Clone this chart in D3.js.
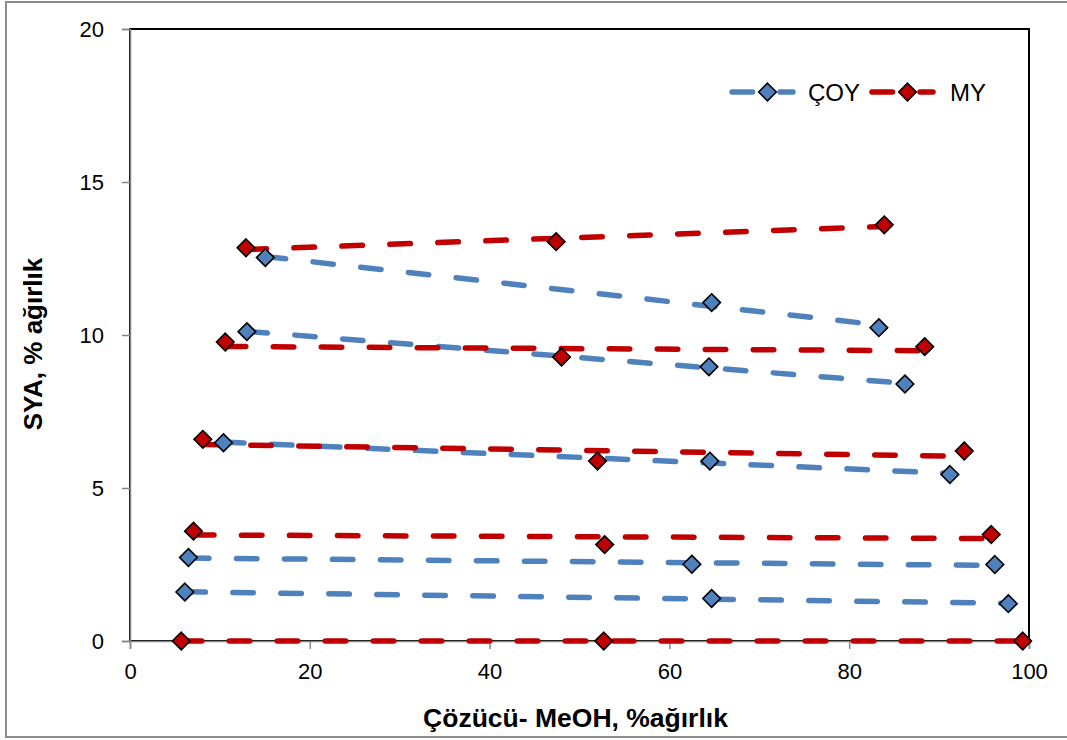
<!DOCTYPE html>
<html>
<head>
<meta charset="utf-8">
<script src="https://cdn.jsdelivr.net/npm/d3@7"></script>
<style>
  body { margin: 0; background: #fff; }
  text { font-family: "Liberation Sans", Arial, sans-serif; }
</style>
</head>
<body>
<div id="plot"></div>
<script>
// data: 5 groups of 3 points per series
var coyX = [[15.05, 64.7, 83.3], [13.0, 64.4, 86.2], [10.4, 64.5, 91.2], [6.5, 62.5, 96.2], [6.1, 64.7, 97.7]];
var coyY = [[12.53, 11.06, 10.24], [10.11, 8.96, 8.40], [6.48, 5.88, 5.44], [2.73, 2.51, 2.50], [1.60, 1.39, 1.22]];
var myX = [[12.9, 47.4, 83.9], [10.6, 48.0, 88.4], [8.1, 52.0, 92.8], [7.06, 52.8, 95.8], [5.7, 52.7, 99.3]];
var myY = [[12.85, 13.05, 13.6], [9.77, 9.28, 9.62], [6.59, 5.88, 6.21], [3.59, 3.15, 3.48], [0, 0, 0]];
var seriesNames = ["ÇOY", "MY"];
var xTicks = [0, 20, 40, 60, 80, 100];
var yTicks = [0, 5, 10, 15, 20];

document.addEventListener('DOMContentLoaded', () => {

    var W = 1067, H = 740;
    var margin = {top: 29, right: 38, bottom: 99, left: 130},
        width = W - margin.left - margin.right,
        height = H - margin.top - margin.bottom;

    var colors = ["#4F81BD", "#C00000"];

    var root = d3.select("#plot")
      .append("svg")
        .attr("width", W)
        .attr("height", H);

    // outer chart border
    root.append("rect")
        .attr("x", 6).attr("y", 2)
        .attr("width", W + 10).attr("height", 735)
        .attr("fill", "none")
        .attr("stroke", "#8c8c8c")
        .attr("stroke-width", 2);

    var svg = root.append("g")
        .attr("transform", "translate(" + margin.left + "," + margin.top + ")");

    var x = d3.scaleLinear().domain([0, 100]).range([0, width]);
    var y = d3.scaleLinear().domain([0, 20]).range([height, 0]);

    // plot area border
    svg.append("rect")
        .attr("x", 0).attr("y", 0)
        .attr("width", width).attr("height", height)
        .attr("fill", "none")
        .attr("stroke", "#000")
        .attr("stroke-width", 2);

    // axes
    var xAxis = svg.append("g")
        .attr("transform", "translate(0," + height + ")")
        .call(d3.axisBottom(x).tickValues(xTicks).tickSize(8).tickPadding(14));
    var yAxis = svg.append("g")
        .call(d3.axisLeft(y).tickValues(yTicks).tickSize(8).tickPadding(18));

    [xAxis, yAxis].forEach(function (a) {
        a.select(".domain").attr("stroke", "#868686").attr("stroke-width", 1.5);
        a.selectAll(".tick line").attr("stroke", "#868686").attr("stroke-width", 1.5);
        a.selectAll(".tick text")
            .attr("fill", "#000")
            .style("font-size", "22px")
            .style("font-family", "'Liberation Sans', Arial, sans-serif");
    });
    yAxis.selectAll(".tick text").attr("dy", "0.36em");

    // axis titles
    root.append("text")
        .attr("text-anchor", "middle")
        .attr("x", margin.left + width / 2 - 4)
        .attr("y", 727)
        .style("font-size", "26.5px")
        .style("font-weight", "bold")
        .text("Çözücü- MeOH, %ağırlık");

    root.append("text")
        .attr("text-anchor", "middle")
        .attr("transform", "translate(42," + (margin.top + height / 2 + 9) + ") rotate(-90)")
        .style("font-size", "26px")
        .style("font-weight", "bold")
        .text("SYA, % ağırlık");

    // linear trend line of one group, from its smallest to its largest x
    function trend(xs, ys) {
        var mx = d3.mean(xs), my = d3.mean(ys);
        var sxy = d3.sum(xs, function (v, i) { return (v - mx) * (ys[i] - my); });
        var sxx = d3.sum(xs, function (v) { return (v - mx) * (v - mx); });
        var b = sxy / sxx, a = my - b * mx;
        var x0 = d3.min(xs), x1 = d3.max(xs);
        return [[x0, a + b * x0], [x1, a + b * x1]];
    }

    var diamond = function (r) {
        return "M0," + (-r) + "L" + r + ",0L0," + r + "L" + (-r) + ",0Z";
    };

    var series = [{xs: coyX, ys: coyY}, {xs: myX, ys: myY}];

    // dashed trend lines
    series.forEach(function (s, si) {
        svg.append("g")
            .selectAll("line")
            .data(s.xs.map(function (xs, gi) { return trend(xs, s.ys[gi]); }))
            .enter()
            .append("line")
            .attr("x1", function (d) { return x(d[0][0]); })
            .attr("y1", function (d) { return y(d[0][1]); })
            .attr("x2", function (d) { return x(d[1][0]); })
            .attr("y2", function (d) { return y(d[1][1]); })
            .attr("stroke", colors[si])
            .attr("stroke-width", 5.5)
            .attr("stroke-linecap", "round")
            .attr("stroke-dasharray", "20.5,27.5");
    });

    // markers
    series.forEach(function (s, si) {
        var pts = [];
        s.xs.forEach(function (xs, gi) {
            xs.forEach(function (v, i) { pts.push([v, s.ys[gi][i]]); });
        });
        svg.append("g")
            .selectAll("path")
            .data(pts)
            .enter()
            .append("path")
            .attr("d", diamond(8.8))
            .attr("transform", function (d) { return "translate(" + x(d[0]) + "," + y(d[1]) + ")"; })
            .attr("fill", colors[si])
            .attr("stroke", "#000")
            .attr("stroke-width", 1.6);
    });

    // legend
    var legendX = [732, 872];
    var legendTextX = [808, 950];
    seriesNames.forEach(function (name, i) {
        var g = root.append("g");
        g.append("line")
            .attr("x1", legendX[i]).attr("x2", legendX[i] + 61)
            .attr("y1", 92).attr("y2", 92)
            .attr("stroke", colors[i])
            .attr("stroke-width", 5.5)
            .attr("stroke-linecap", "round")
            .attr("stroke-dasharray", "20.5,27.5");
        g.append("path")
            .attr("d", diamond(8.8))
            .attr("transform", "translate(" + (legendX[i] + 35.5) + ",92)")
            .attr("fill", colors[i])
            .attr("stroke", "#000")
            .attr("stroke-width", 1.6);
        g.append("text")
            .attr("x", legendTextX[i])
            .attr("y", 101)
            .style("font-size", "24px")
            .text(name);
    });
});
</script>
</body>
</html>
